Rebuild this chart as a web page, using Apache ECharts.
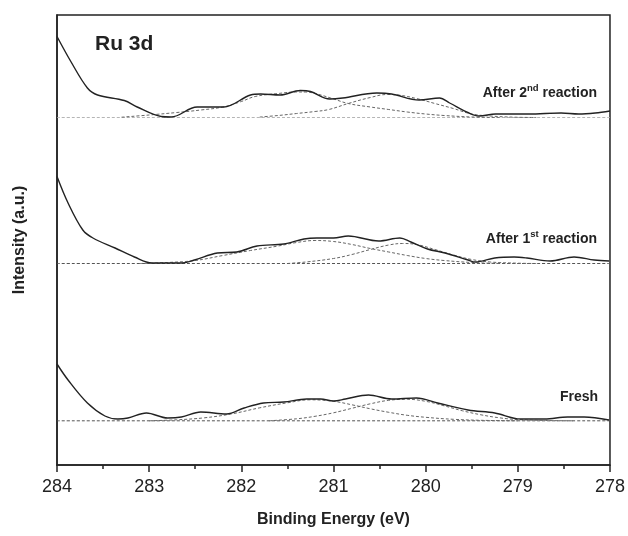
<!DOCTYPE html>
<html><head><meta charset="utf-8">
<script src="https://cdn.jsdelivr.net/npm/echarts@6/dist/echarts.min.js"></script>
<style>html,body{margin:0;padding:0;background:#fff}#c{width:628px;height:536px}</style>
</head><body><div id="c"></div>
<script>
// Binding energy (eV), intensity above each spectrum's baseline (a.u.)
const xTicks = [284, 283, 282, 281, 280, 279, 278];
const offsets = { second: 347.5, first: 201.5, fresh: 44.2 };

const secondSolid = [[284.00,81],[283.85,56],[283.67,29.5],[283.56,22.5],[283.27,17],[283.13,10.5],[282.87,1],[282.76,0.5],[282.48,10.5],[282.33,10.5],[282.19,10.5],[281.90,22.5],[281.79,23.5],[281.58,22.5],[281.36,27],[281.25,26],[281.04,18.5],[280.90,19.5],[280.53,24.5],[280.37,23.5],[280.07,17.5],[279.85,19.5],[279.74,14.5],[279.53,4.5],[279.42,1.5],[279.24,3.5],[278.88,3.5],[278.53,4.5],[278.34,3.5],[278.16,4.5],[278.00,6.5]];
const secondPeakA = [[283.3,0.3],[283.0,2.5],[282.7,5],[282.44,7.5],[282.2,10.5],[282.0,16],[281.85,21],[281.6,24],[281.4,25.5],[281.3,25.5],[281.2,24],[281.03,19.5],[280.84,14],[280.6,10.5],[280.4,8],[280.2,5.5],[280.0,3.5],[279.8,2],[279.5,0.5],[279.2,0]];
const secondPeakB = [[281.8,0.5],[281.6,2],[281.4,4],[281.2,6],[281.05,8],[280.84,14],[280.6,20],[280.42,23],[280.3,22.5],[280.1,19],[279.9,14],[279.7,9],[279.5,3.5],[279.3,1.5],[279.04,0.3],[278.8,0]];

const firstSolid = [[284.00,87],[283.88,60.5],[283.72,33.5],[283.61,25.5],[283.37,15.5],[283.16,6.5],[282.97,0.5],[282.65,0.5],[282.51,3.5],[282.26,10.5],[282.05,11.5],[281.83,17.5],[281.54,19.5],[281.32,24.5],[281.18,25.5],[281.00,25.5],[280.84,27.5],[280.51,22.5],[280.28,25.5],[280.16,21.5],[279.98,14.5],[279.79,10.5],[279.54,3.5],[279.46,1.5],[279.25,5.5],[279.04,6.5],[278.90,5.5],[278.65,2.5],[278.39,6.5],[278.17,3.5],[278.01,2.5]];
const firstPeakA = [[283.1,0],[282.8,1],[282.5,3],[282.2,8],[281.9,13],[281.6,17.5],[281.4,21],[281.2,23],[281.0,22],[280.8,19],[280.6,15],[280.4,11.5],[280.2,8],[280.0,5],[279.8,3],[279.5,1],[279.2,0]];
const firstPeakB = [[281.5,0],[281.3,1.5],[281.0,5],[280.8,9],[280.6,14],[280.4,18.5],[280.25,20],[280.1,19],[279.9,14],[279.7,8.5],[279.5,4],[279.3,1.5],[279.0,0.3],[278.8,0]];

const freshSolid = [[284.00,56.8],[283.88,40.8],[283.67,17.8],[283.48,4.8],[283.34,1.8],[283.23,2.8],[283.03,7.8],[282.80,2.8],[282.65,3.8],[282.44,8.8],[282.16,6.8],[281.97,12.8],[281.76,17.8],[281.54,18.8],[281.29,21.8],[281.14,21.8],[281.00,19.8],[280.87,21.8],[280.62,25.8],[280.37,21.8],[280.10,22.8],[279.87,17.8],[279.54,10.8],[279.25,7.8],[278.97,1.8],[278.71,1.8],[278.46,3.8],[278.28,3.8],[278.01,0.8]];
const freshPeakA = [[283.0,0],[282.7,1],[282.4,3],[282.1,7],[281.8,13],[281.5,18],[281.25,21],[281.0,19.5],[280.8,16],[280.6,12],[280.4,8.5],[280.2,5.5],[280.0,3.5],[279.7,1.5],[279.4,0.5],[279.0,0]];
const freshPeakB = [[281.7,0],[281.4,2],[281.2,4.5],[281.0,8],[280.8,12.5],[280.6,17],[280.4,20.5],[280.2,21.5],[280.0,19.5],[279.8,15],[279.6,10],[279.4,6],[279.2,3],[279.0,1.2],[278.7,0.3],[278.4,0]];

const baselineRange = [[284,0],[278,0]];

const FONT = '"Liberation Sans", Arial, Helvetica, sans-serif';
function shift(arr, off){ return arr.map(p => [p[0], p[1] + off]); }
function solid(arr, off){
  return { type:'line', data: shift(arr, off), showSymbol:false, smooth:0.35, silent:true,
    lineStyle:{ color:'#222', width:1.4 }, z:5 };
}
function dashed(arr, off, color){
  return { type:'line', data: shift(arr, off), showSymbol:false, smooth:0.4, silent:true,
    lineStyle:{ color: color || '#666', width:1, type:[3,2] }, z:3 };
}
const richLabel = {
  a:{ fontFamily:FONT, fontSize:14, fontWeight:'bold', fill:'#222', lineHeight:17, verticalAlign:'bottom' },
  s:{ fontFamily:FONT, fontSize:9.5, fontWeight:'bold', fill:'#222', lineHeight:17, verticalAlign:'top' }
};

const chart = echarts.init(document.getElementById('c'), null, { renderer:'canvas' });
chart.setOption({
  backgroundColor:'#fff',
  animation:false,
  grid:{ left:57, right:15, top:15, bottom:71, show:true, borderColor:'#222', borderWidth:1.5 },
  xAxis:{ type:'value', min:278, max:284, interval:1, inverse:true,
    name:'Binding Energy (eV)', nameLocation:'middle', nameGap:47,
    nameTextStyle:{ fontFamily:FONT, fontSize:16, fontWeight:'bold', color:'#222' },
    axisLine:{ show:true, lineStyle:{ color:'#222', width:1.5 } },
    axisTick:{ show:true, inside:false, length:7, lineStyle:{ color:'#222', width:1.5 } },
    minorTick:{ show:true, splitNumber:2, length:4, lineStyle:{ color:'#222', width:1.5 } },
    axisLabel:{ fontFamily:FONT, fontSize:18, color:'#222', margin:13,
      formatter: v => xTicks.indexOf(v) >= 0 ? String(v) : '' },
    splitLine:{ show:false }
  },
  yAxis:{ type:'value', min:0, max:450,
    name:'Intensity (a.u.)', nameLocation:'middle', nameGap:29,
    nameTextStyle:{ fontFamily:FONT, fontSize:16, fontWeight:'bold', color:'#222' },
    axisLine:{ show:true, lineStyle:{ color:'#222', width:1.5 } },
    axisTick:{ show:false }, axisLabel:{ show:false }, splitLine:{ show:false }
  },
  graphic:[
    { type:'text', x:95, y:44, style:{ text:'Ru 3d', fontFamily:FONT, fontSize:21, fontWeight:'bold', fill:'#222', verticalAlign:'middle', align:'left' } },
    { type:'text', x:597, y:92, style:{ text:'{a|After 2}{s|nd}{a| reaction}', align:'right', verticalAlign:'middle', rich:richLabel } },
    { type:'text', x:597, y:238, style:{ text:'{a|After 1}{s|st}{a| reaction}', align:'right', verticalAlign:'middle', rich:richLabel } },
    { type:'text', x:598, y:397, style:{ text:'Fresh', fontFamily:FONT, fontSize:14, fontWeight:'bold', fill:'#222', align:'right', verticalAlign:'middle' } }
  ],
  series:[
    dashed(baselineRange, offsets.second, '#b5b5b5'),
    dashed(secondPeakA, offsets.second), dashed(secondPeakB, offsets.second), solid(secondSolid, offsets.second),
    dashed(baselineRange, offsets.first, '#555'),
    dashed(firstPeakA, offsets.first), dashed(firstPeakB, offsets.first), solid(firstSolid, offsets.first),
    dashed(baselineRange, offsets.fresh, '#555'),
    dashed(freshPeakA, offsets.fresh), dashed(freshPeakB, offsets.fresh), solid(freshSolid, offsets.fresh)
  ]
});
</script></body></html>
